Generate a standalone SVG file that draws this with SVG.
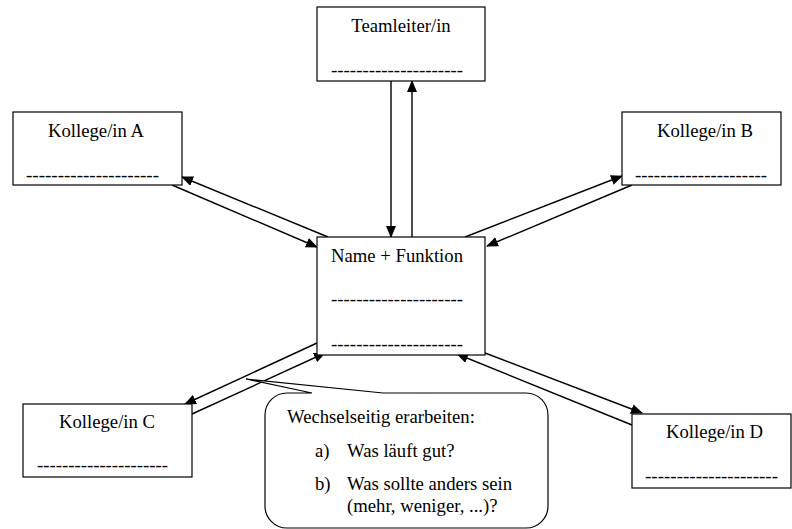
<svg xmlns="http://www.w3.org/2000/svg" width="792" height="529" viewBox="0 0 792 529">
<style>
.box{fill:#fff;stroke:#000;stroke-width:1.2}
.t{font-family:'Liberation Serif','Times New Roman','DejaVu Serif',serif;font-size:18.7px;fill:#000}
.c{text-anchor:middle}
.ln{stroke:#000;stroke-width:1.4;fill:none;marker-end:url(#ah)}
</style>
<defs>
<marker id="ah" markerUnits="userSpaceOnUse" markerWidth="12" markerHeight="10" refX="11" refY="5" orient="auto">
<path d="M0,0 L12,5 L0,10 Z" fill="#000"/>
</marker>
</defs>
<rect width="792" height="529" fill="#fff"/>
<g id="connectors">
<line class="ln" x1="391" y1="81" x2="391" y2="237"/>
<line class="ln" x1="412" y1="237" x2="412" y2="81"/>
<line class="ln" x1="172" y1="185" x2="317" y2="247"/>
<line class="ln" x1="328" y1="237" x2="182" y2="177"/>
<line class="ln" x1="465" y1="237" x2="622" y2="176"/>
<line class="ln" x1="632" y1="185" x2="487" y2="246"/>
<line class="ln" x1="317" y1="343" x2="185" y2="404"/>
<line class="ln" x1="192" y1="414" x2="325" y2="353"/>
<line class="ln" x1="485" y1="353" x2="642" y2="413"/>
<line class="ln" x1="632" y1="425" x2="457" y2="354"/>
</g>
<g font-family="'Liberation Serif','Times New Roman',serif">
<g id="teamleiter">
<rect class="box" x="317" y="7" width="168" height="74"/>
<text class="t c" x="401" y="32">Teamleiter/in</text>
<text class="t" x="331" y="76" textLength="132" lengthAdjust="spacingAndGlyphs">---------------------</text>
</g>
<g id="kollegeA">
<rect class="box" x="13" y="112" width="169" height="73"/>
<text class="t c" x="96" y="137">Kollege/in A</text>
<text class="t" x="26" y="181" textLength="133" lengthAdjust="spacingAndGlyphs">---------------------</text>
</g>
<g id="kollegeB">
<rect class="box" x="622" y="112" width="159" height="73"/>
<text class="t c" x="705" y="137">Kollege/in B</text>
<text class="t" x="635" y="181" textLength="132" lengthAdjust="spacingAndGlyphs">---------------------</text>
</g>
<g id="center">
<rect class="box" x="317" y="237" width="168" height="118"/>
<text class="t" x="331" y="262">Name + Funktion</text>
<text class="t" x="331" y="305" textLength="132" lengthAdjust="spacingAndGlyphs">---------------------</text>
<text class="t" x="331" y="350" textLength="132" lengthAdjust="spacingAndGlyphs">---------------------</text>
</g>
<g id="kollegeC">
<rect class="box" x="23" y="404" width="169" height="73"/>
<text class="t c" x="107" y="428">Kollege/in C</text>
<text class="t" x="37" y="471" textLength="131" lengthAdjust="spacingAndGlyphs">---------------------</text>
</g>
<g id="kollegeD">
<rect class="box" x="632" y="414" width="159" height="74"/>
<text class="t" x="666" y="438">Kollege/in D</text>
<text class="t" x="645" y="482" textLength="133" lengthAdjust="spacingAndGlyphs">---------------------</text>
</g>
<g id="callout">
<path class="box" d="M312,393 L246,379 L383,393 L526,393 A22,22 0 0 1 548,415 L548,506 A22,22 0 0 1 526,528 L287,528 A22,22 0 0 1 265,506 L265,415 A22,22 0 0 1 287,393 Z"/>
<text class="t" x="287" y="423">Wechselseitig erarbeiten:</text>
<text class="t" x="315" y="457">a)</text>
<text class="t" x="347" y="457">Was läuft gut?</text>
<text class="t" x="315" y="490">b)</text>
<text class="t" x="347" y="490">Was sollte anders sein</text>
<text class="t" x="347" y="512">(mehr, weniger, ...)?</text>
</g>
</g>
</svg>
